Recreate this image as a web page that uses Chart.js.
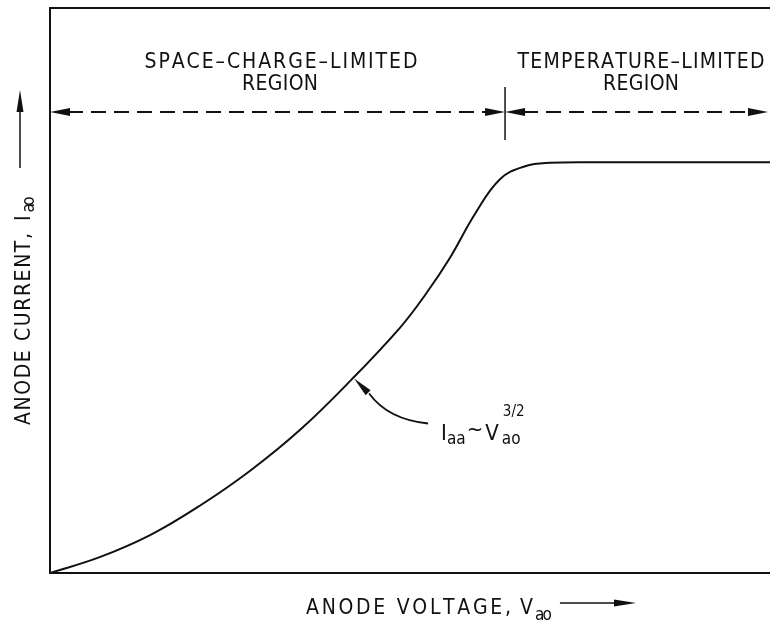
<!DOCTYPE html>
<html>
<head>
<meta charset="utf-8">
<script src="https://cdn.jsdelivr.net/npm/chart.js@4/dist/chart.umd.min.js"></script>
<style>
  html, body { margin: 0; padding: 0; background: #fff; }
  #wrap { width: 770px; height: 622px; }
</style>
</head>
<body>
<div id="wrap"><canvas id="myChart"></canvas></div>
<script>
// anode voltage (x) and anode current (y), arbitrary units 0-100
const voltage = [0, 6.9, 13.9, 20.8, 27.8, 34.7, 41.7, 48.6, 52.1, 55.6, 59.0, 62.5, 66.0, 69.4, 76.4, 100];
const current = [0, 2.8, 6.7, 11.9, 18.1, 25.3, 34.0, 43.4, 49.2, 55.9, 63.5, 69.7, 72.0, 72.6, 72.7, 72.7];

// region marker
const regionLevel = 81.6;      // current level of the dashed arrow
const boundaryVoltage = 63.2;  // where space-charge region ends
const regionNames = [["SPACE–CHARGE–LIMITED", "REGION"], ["TEMPERATURE–LIMITED", "REGION"]];

// point the 3/2 law callout points at
const lawPoint = { x: 42.1, y: 34.6 };

const ink = '#111';
const face = '"Liberation Sans Narrow", "DejaVu Sans Condensed", "Liberation Sans", sans-serif';

// draw text letter by letter so it fills a given width, like the old lettering
const fitText = (ctx, s, x, y, w, align) => {
  const chars = [...s];
  let raw = 0;
  chars.forEach(c => { raw += ctx.measureText(c).width; });
  const gap = chars.length > 1 ? (w - raw) / (chars.length - 1) : 0;
  let cx = align === 'center' ? x - w / 2 : x;
  chars.forEach(c => {
    ctx.fillText(c, cx, y);
    cx += ctx.measureText(c).width + gap;
  });
  return cx - gap;
};

const head = (ctx, tx, ty, dx, dy, len, half) => {
  const px = -dy, py = dx;
  ctx.beginPath();
  ctx.moveTo(tx, ty);
  ctx.lineTo(tx - dx * len + px * half, ty - dy * len + py * half);
  ctx.lineTo(tx - dx * len - px * half, ty - dy * len - py * half);
  ctx.closePath();
  ctx.fill();
};

const sketch = {
  id: 'sketch',
  afterDraw(chart) {
    const { ctx, chartArea: a, scales: { x, y } } = chart;
    ctx.save();
    ctx.strokeStyle = ink;
    ctx.fillStyle = ink;
    ctx.textAlign = 'left';
    ctx.textBaseline = 'alphabetic';

    // open frame: top, left, bottom
    ctx.lineWidth = 2;
    ctx.beginPath();
    ctx.moveTo(a.right, a.top);
    ctx.lineTo(a.left, a.top);
    ctx.lineTo(a.left, a.bottom);
    ctx.lineTo(a.right, a.bottom);
    ctx.stroke();

    // dashed region arrows
    const ry = y.getPixelForValue(regionLevel);
    const bx = x.getPixelForValue(boundaryVoltage);
    ctx.lineWidth = 2;
    ctx.setLineDash([15, 8]);
    ctx.beginPath();
    ctx.moveTo(a.left + 18, ry); ctx.lineTo(bx - 18, ry);
    ctx.moveTo(bx + 18, ry); ctx.lineTo(a.right - 16, ry);
    ctx.stroke();
    ctx.setLineDash([]);
    head(ctx, a.left, ry, -1, 0, 20, 4);
    head(ctx, bx, ry, 1, 0, 20, 4);
    head(ctx, bx, ry, -1, 0, 20, 4);
    head(ctx, a.right - 2, ry, 1, 0, 20, 4);
    ctx.lineWidth = 1.5;
    ctx.beginPath();
    ctx.moveTo(bx, ry - 25); ctx.lineTo(bx, ry + 28);
    ctx.stroke();

    // region names
    ctx.font = '21px ' + face;
    fitText(ctx, regionNames[0][0], 281, ry - 44, 273, 'center');
    fitText(ctx, regionNames[0][1], 280, ry - 22, 76, 'center');
    fitText(ctx, regionNames[1][0], 641, ry - 44, 247, 'center');
    fitText(ctx, regionNames[1][1], 641, ry - 22, 76, 'center');

    // x axis title
    ctx.font = '21px ' + face;
    let end = fitText(ctx, 'ANODE VOLTAGE,', 306, 614, 205, 'left');
    end = fitText(ctx, 'V', 520, 614, 14, 'left');
    ctx.font = '17px ' + face;
    end = fitText(ctx, 'ao', end + 2, 620, 17, 'left');
    ctx.lineWidth = 1.5;
    ctx.beginPath();
    ctx.moveTo(end + 8, 603); ctx.lineTo(615, 603);
    ctx.stroke();
    head(ctx, 636, 603, 1, 0, 22, 3.5);

    // y axis title, rotated
    ctx.save();
    ctx.translate(14, 425);
    ctx.rotate(-Math.PI / 2);
    ctx.font = '21px ' + face;
    end = fitText(ctx, 'ANODE CURRENT,', 0, 16, 192, 'left');
    end = fitText(ctx, 'I', end + 12, 16, 4, 'left');
    ctx.font = '17px ' + face;
    fitText(ctx, 'ao', end + 3, 20, 16, 'left');
    ctx.restore();
    ctx.lineWidth = 1.5;
    ctx.beginPath();
    ctx.moveTo(20, 168); ctx.lineTo(20, 108);
    ctx.stroke();
    head(ctx, 20, 90, 0, -1, 22, 3.5);

    // 3/2 power law callout
    const lx = x.getPixelForValue(lawPoint.x);
    const ly = y.getPixelForValue(lawPoint.y);
    ctx.lineWidth = 1.8;
    ctx.beginPath();
    ctx.moveTo(lx + 75, ly + 46);
    ctx.quadraticCurveTo(lx + 35, ly + 42, lx + 16, ly + 16);
    ctx.stroke();
    head(ctx, lx + 1, ly + 1, -0.7, -0.714, 20, 3.5);
    let tx = lx + 88;
    ctx.font = '22px ' + face;
    ctx.fillText('I', tx, ly + 62);
    tx += ctx.measureText('I').width;
    ctx.font = '17px ' + face;
    ctx.fillText('aa', tx, ly + 66);
    tx += ctx.measureText('aa').width + 1;
    ctx.font = '22px ' + face;
    ctx.fillText('~', tx, ly + 58);
    tx += ctx.measureText('~').width + 2;
    ctx.fillText('V', tx, ly + 62);
    tx += ctx.measureText('V').width + 3;
    ctx.font = '17px ' + face;
    ctx.fillText('ao', tx, ly + 66);
    ctx.font = '15px ' + face;
    ctx.fillText('3/2', tx + 1, ly + 38);

    ctx.restore();
  }
};

const ctx = document.getElementById('myChart').getContext('2d');
const myChart = new Chart(ctx, {
  type: 'line',
  data: {
    datasets: [{
      data: voltage.map((v, i) => ({ x: v, y: current[i] })),
      borderColor: ink,
      borderWidth: 2,
      pointRadius: 0,
      fill: false,
      tension: 0.4
    }]
  },
  options: {
    responsive: true,
    maintainAspectRatio: false,
    animation: false,
    layout: { padding: { left: 50, top: 8, right: 0, bottom: 49 } },
    plugins: { legend: { display: false }, tooltip: { enabled: false } },
    scales: {
      x: { type: 'linear', min: 0, max: 100, display: false },
      y: { min: 0, max: 100, display: false }
    }
  },
  plugins: [sketch]
});
</script>
</body>
</html>
